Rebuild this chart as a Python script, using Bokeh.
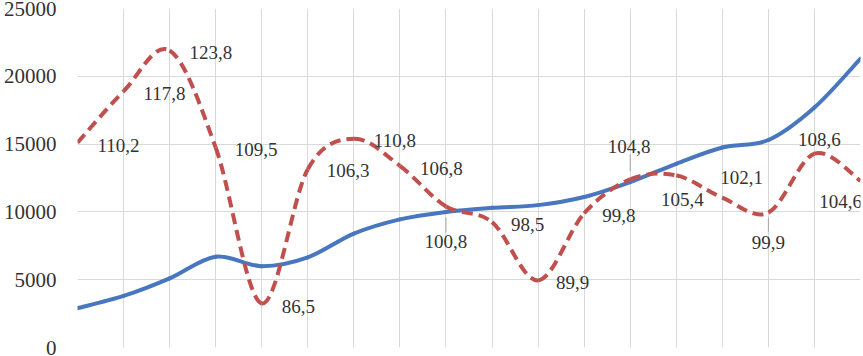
from bokeh.plotting import figure
from bokeh.models import Range1d, FixedTicker, ColumnDataSource
from bokeh.core.properties import value
from bokeh.embed import file_html
from bokeh.resources import INLINE

# ---- data ----
periods = list(range(18))
volume = [2900, 3800, 5100, 6700, 6000, 6650, 8400, 9450, 10000, 10300,
          10500, 11100, 12200, 13550, 14750, 15300, 17700, 21300]
index_pct = [110.2, 117.8, 123.8, 109.5, 86.5, 106.3, 110.8, 106.8, 100.8,
             98.5, 89.9, 99.8, 104.8, 105.4, 102.1, 99.9, 108.6, 104.6]
y_ticks = [0, 5000, 10000, 15000, 20000, 25000]

# ---- label placement (screen px, relative to point) ----
lab_align = ["left"] * 8 + ["center", "left", "left", "left", "center",
                            "center", "left", "center", "center", "center"]
lab_dx = [20, 20, 20, 19, 20, 19, 20, 20, 0, 19, 18, 18, -1, 6, -2, 0, 5, -20]
lab_dy = [3, 2, 2, 2, 3, 1, 2, 3, 35, 2, 2, 2, -33, 24, -20, 30, -14, 21]
leaders = {8: (11, 26), 12: (-25, -8), 15: (5, 19)}

BLUE = "#4876BF"
RED = "#C0504D"
TXT = "#333333"
FONT = "Liberation Serif"

p = figure(width=863, height=356, output_backend="svg", toolbar_location=None,
           x_range=Range1d(0, 17), y_range=Range1d(0, 25000),
           min_border_left=76, min_border_right=3, min_border_top=8,
           min_border_bottom=9, outline_line_color=None,
           background_fill_color="white", border_fill_color="white")
p.styles = {"margin": "0px"}
p.extra_y_ranges = {"idx": Range1d(80, 130)}

p.xaxis.visible = False
p.yaxis.ticker = FixedTicker(ticks=y_ticks)
p.yaxis.axis_line_color = None
p.yaxis.major_tick_line_color = None
p.yaxis.minor_tick_line_color = None
p.yaxis.major_tick_out = 0
p.yaxis.major_tick_in = 0
p.yaxis.major_label_standoff = 21
p.yaxis.major_label_text_font = FONT
p.yaxis.major_label_text_font_size = "21px"
p.yaxis.major_label_text_color = TXT

p.xgrid.ticker = FixedTicker(ticks=periods)
p.ygrid.ticker = FixedTicker(ticks=y_ticks)
for g in (p.xgrid, p.ygrid):
    g.grid_line_color = "#D9D9D9"
    g.grid_line_width = 1


def bezier_parts(xs, ys):
    n = len(xs)
    d = dict(x0=[], y0=[], x1=[], y1=[], cx0=[], cy0=[], cx1=[], cy1=[])
    for i in range(n - 1):
        a = i - 1 if i > 0 else i
        b = i + 2 if i + 2 < n else i + 1
        d["x0"].append(xs[i]); d["y0"].append(ys[i])
        d["x1"].append(xs[i + 1]); d["y1"].append(ys[i + 1])
        d["cx0"].append(xs[i] + (xs[i + 1] - xs[a]) / 6)
        d["cy0"].append(ys[i] + (ys[i + 1] - ys[a]) / 6)
        d["cx1"].append(xs[i + 1] - (xs[b] - xs[i]) / 6)
        d["cy1"].append(ys[i + 1] - (ys[b] - ys[i]) / 6)
    return ColumnDataSource(d)


p.bezier(x0="x0", y0="y0", x1="x1", y1="y1", cx0="cx0", cy0="cy0",
         cx1="cx1", cy1="cy1", source=bezier_parts(periods, volume),
         line_color=BLUE, line_width=4, line_cap="round")

p.bezier(x0="x0", y0="y0", x1="x1", y1="y1", cx0="cx0", cy0="cy0",
         cx1="cx1", cy1="cy1", source=bezier_parts(periods, index_pct),
         line_color=RED, line_width=4, line_dash="11 6",
         y_range_name="idx")

# leader lines
unit_per_px = (130 - 80) / 339.0
lx, ly0, ly1 = [], [], []
for i, (a, b) in leaders.items():
    lx.append(periods[i])
    ly0.append(index_pct[i] - a * unit_per_px)
    ly1.append(index_pct[i] - b * unit_per_px)
p.segment(x0=lx, y0=ly0, x1=lx, y1=ly1, line_color="#A6A6A6", line_width=1,
          y_range_name="idx")

labels = ColumnDataSource(dict(
    x=periods, y=index_pct,
    t=[("%.1f" % v).replace(".", ",") for v in index_pct],
    align=lab_align, dx=lab_dx, dy=lab_dy))
p.text(x="x", y="y", text="t", source=labels, y_range_name="idx",
       x_offset="dx", y_offset="dy", text_align="align",
       text_baseline="middle", text_font=value(FONT),
       text_font_size="19px", text_color=TXT)

open("out.html", "w").write(file_html(p, INLINE))
